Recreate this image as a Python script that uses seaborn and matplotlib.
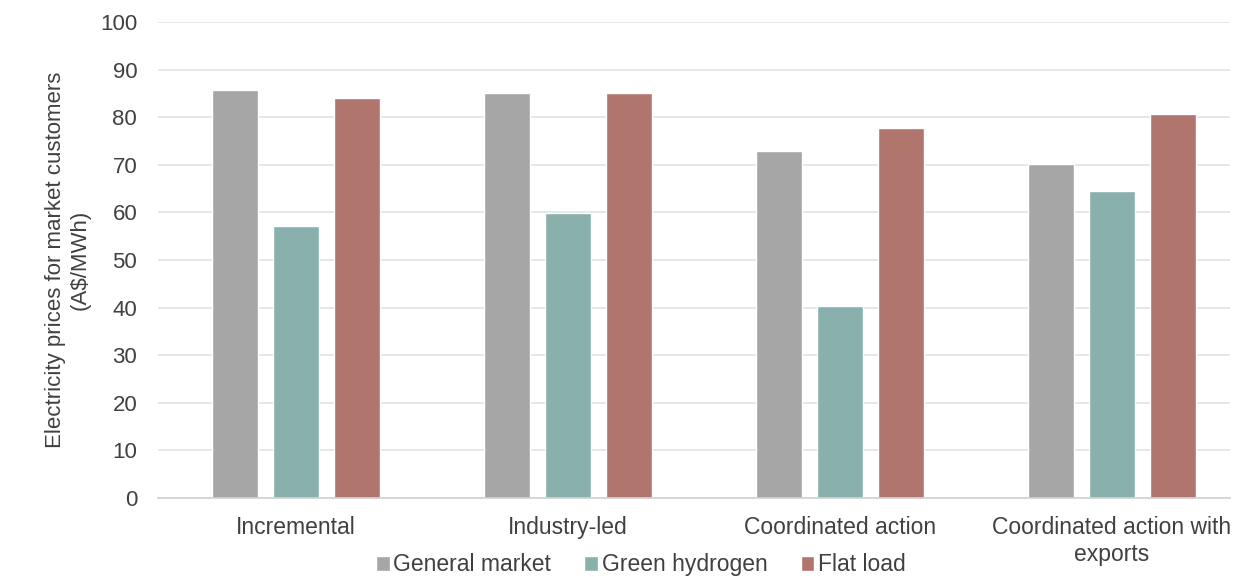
import matplotlib
matplotlib.use("Agg")
import matplotlib.pyplot as plt
import seaborn as sns
import pandas as pd

categories = ["Incremental", "Industry-led", "Coordinated action", "Coordinated action with\nexports"]
series_names = ["General market", "Green hydrogen", "Flat load"]
general_market = [85.8, 85.0, 73.0, 70.2]
green_hydrogen = [57.1, 59.9, 40.3, 64.5]
flat_load = [84.0, 85.0, 77.7, 80.7]
colors = ["#a6a6a6", "#8ab0ad", "#b0766e"]
yticks = [0, 10, 20, 30, 40, 50, 60, 70, 80, 90, 100]

rows = []
for name, vals in zip(series_names, [general_market, green_hydrogen, flat_load]):
    for c, v in zip(categories, vals):
        rows.append({"Scenario": c, "Series": name, "Value": v})
df = pd.DataFrame(rows)

sns.set_theme(style="white")
plt.rcParams['font.family'] = ['Liberation Sans', 'DejaVu Sans']
text_color = "#404040"

fig = plt.figure(figsize=(12.42, 5.77), dpi=100)
ax = fig.add_axes([158 / 1242, 1 - 498 / 577, (1230 - 158) / 1242, (498 - 22) / 577])
sns.barplot(data=df, x="Scenario", y="Value", hue="Series", order=categories,
            hue_order=series_names, palette=colors, width=0.673, gap=0.245,
            saturation=1, ax=ax, legend=True)

ax.set_ylim(0, 100)
ax.set_yticks(yticks)
ax.set_xlim(-0.507, 3.434)
ax.yaxis.grid(True, color="#e3e3e3", linewidth=1.2)
ax.set_axisbelow(True)
for s in ["left", "right", "top"]:
    ax.spines[s].set_visible(False)
ax.spines["bottom"].set_color("#d0d0d0")
ax.spines["bottom"].set_linewidth(1.2)
ax.tick_params(axis="both", length=0, colors=text_color)
ax.tick_params(axis="y", pad=15, labelsize=16)
ax.tick_params(axis="x", pad=13, labelsize=16.5)
ax.set_xlabel("")
ax.set_ylabel("Electricity prices for market customers\n(A$/MWh)", fontsize=16,
              color=text_color, labelpad=7)

handles, labels = ax.get_legend_handles_labels()
ax.get_legend().remove()
fig.legend(handles, labels, loc="center", bbox_to_anchor=(0.516, 0.021), ncol=3,
           frameon=False, fontsize=16.5, handlelength=0.6, handleheight=0.6,
           handletextpad=0.15, columnspacing=1.45, labelcolor=text_color,
           borderpad=0, borderaxespad=0)

fig.savefig("out.png", dpi=100)
